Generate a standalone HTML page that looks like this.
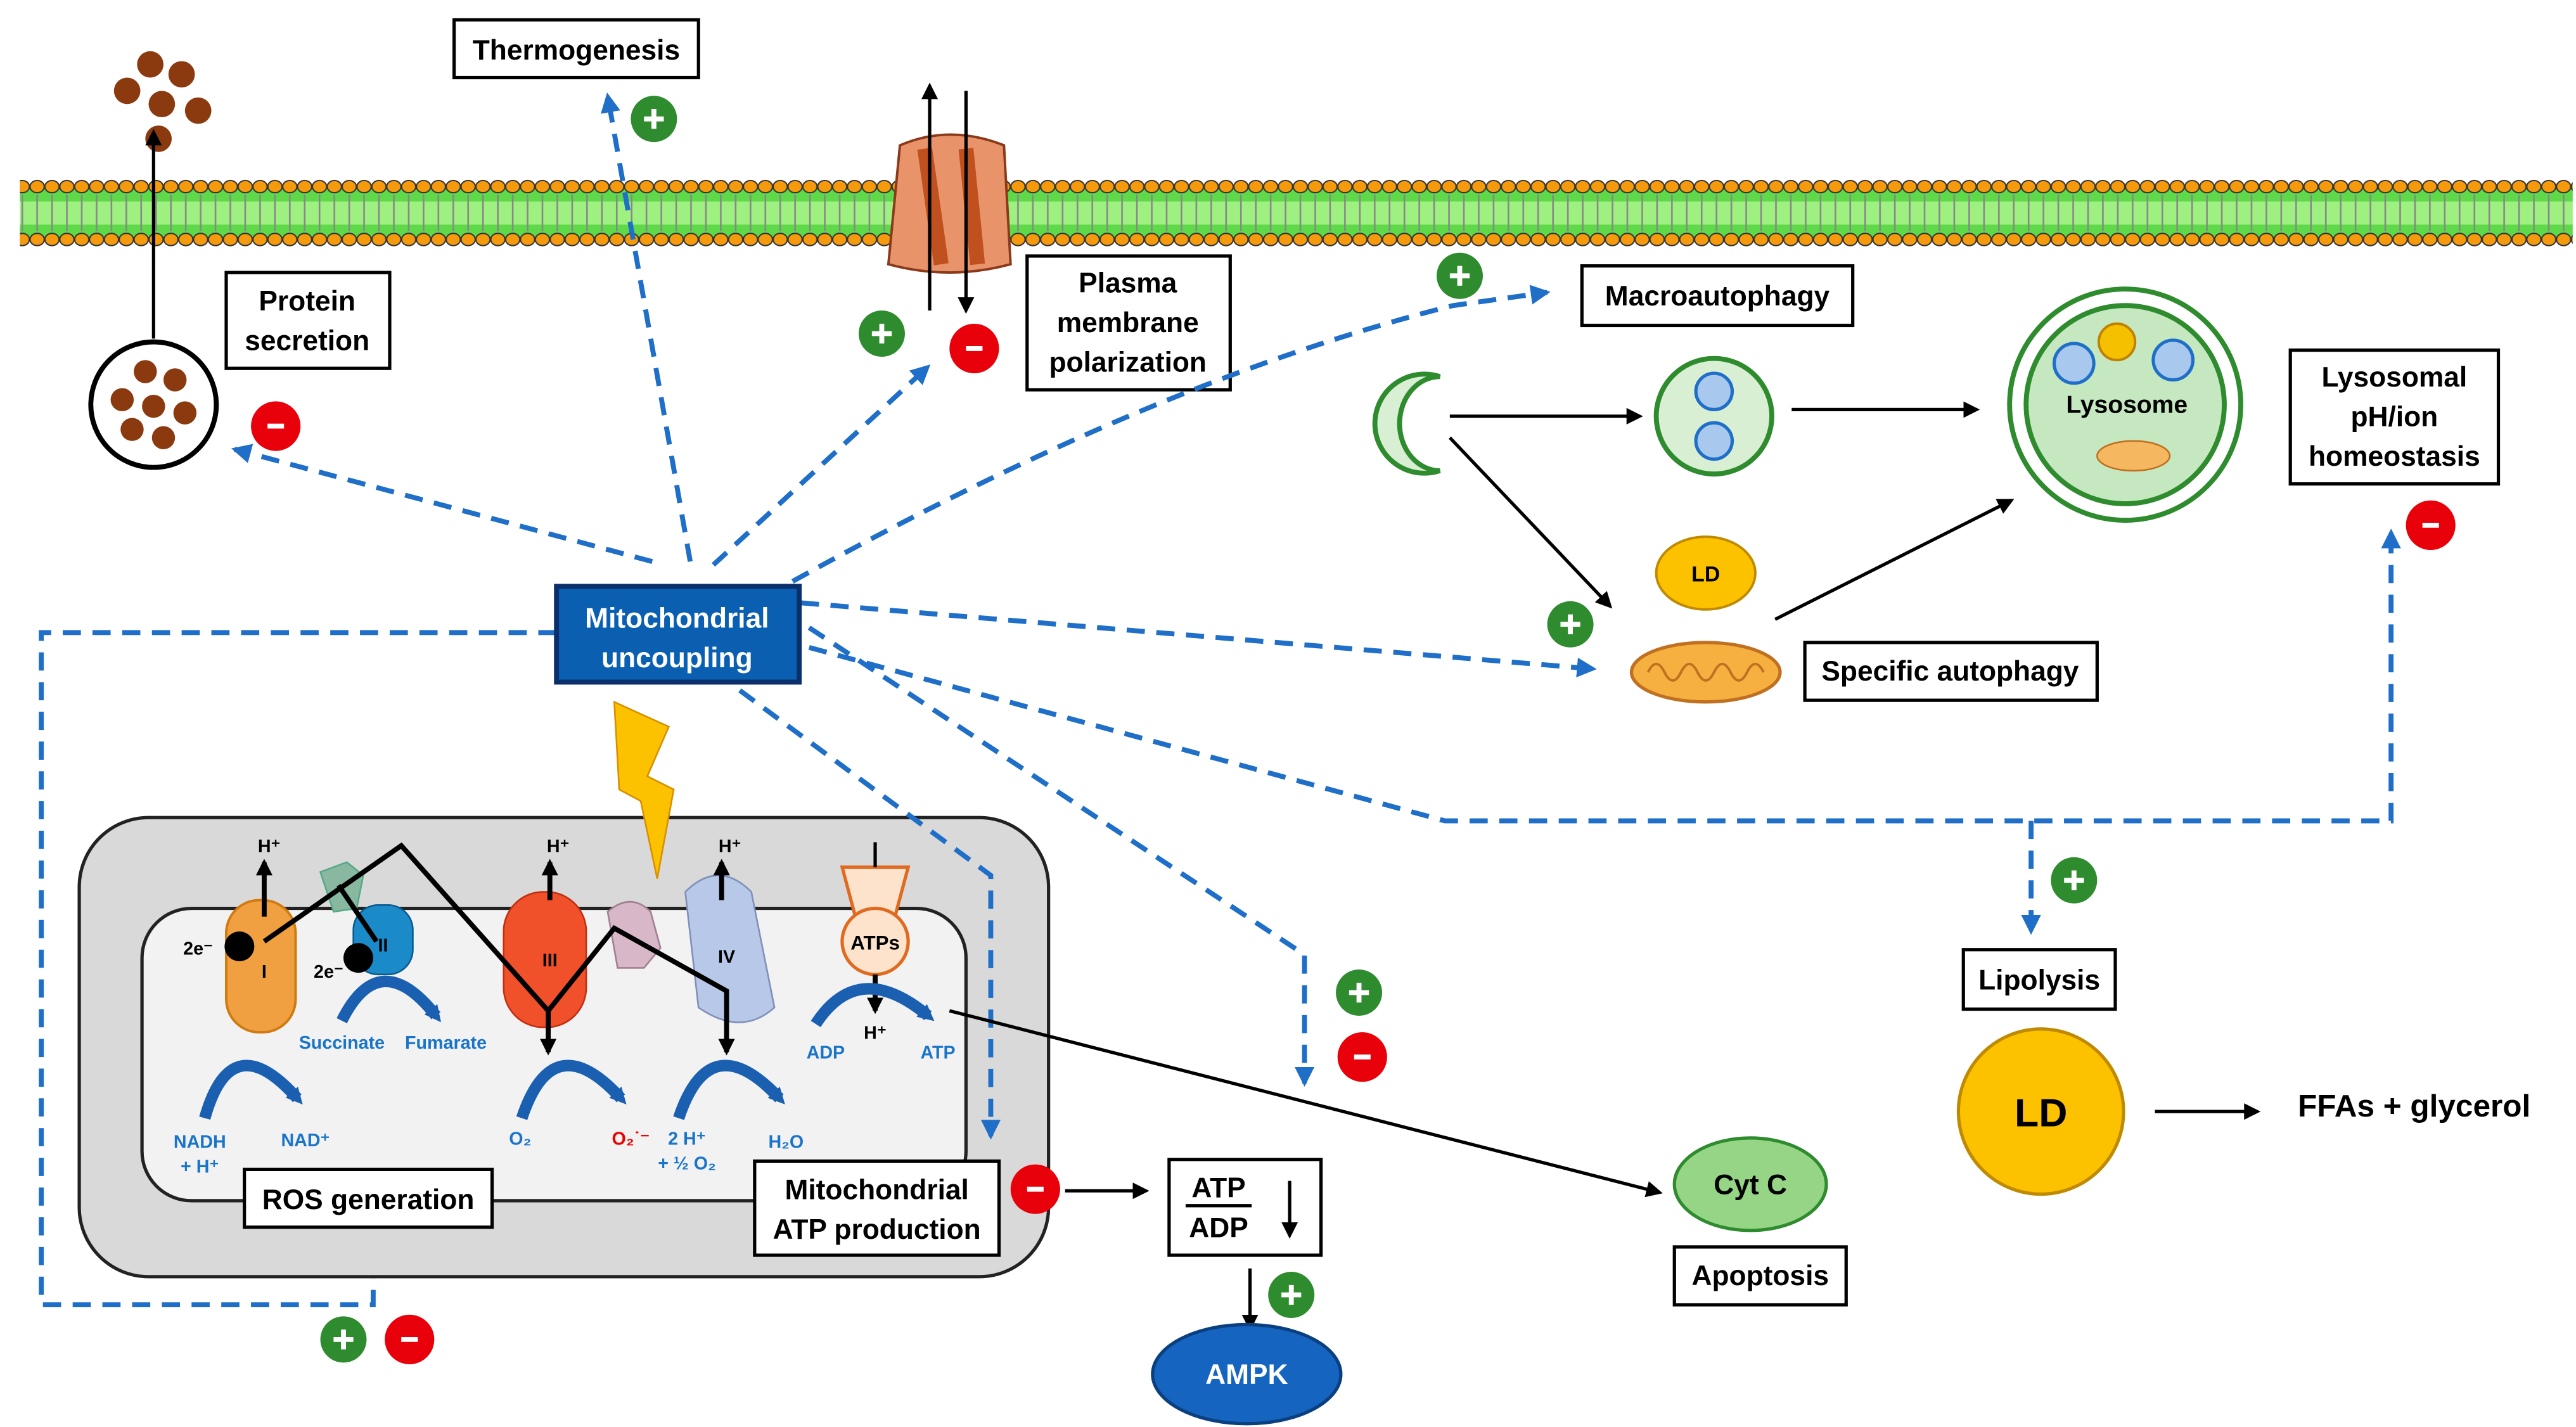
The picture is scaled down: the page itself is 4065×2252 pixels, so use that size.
<!DOCTYPE html>
<html><head><style>
html,body{margin:0;padding:0;background:#fff;}
svg{display:block;}
text{font-family:"Liberation Sans",sans-serif;}
.lb{font-size:17px;font-weight:bold;fill:#000;text-anchor:middle;}
.bx{fill:#fff;stroke:#000;stroke-width:2;}
.dl{fill:none;stroke:#1f6fc8;stroke-width:3;stroke-dasharray:11,7;}
.bl{fill:none;stroke:#000;stroke-width:2;}
.sm{font-size:11px;font-weight:bold;fill:#1a75c9;text-anchor:middle;}
</style></head><body>
<svg width="4065" height="2252" viewBox="0 0 1560 864" preserveAspectRatio="none" xmlns="http://www.w3.org/2000/svg">
<defs>
<pattern id="bead" x="0" y="108" width="9" height="42" patternUnits="userSpaceOnUse">
<rect x="0" y="4" width="9" height="34" fill="#5fd84a"/>
<rect x="0" y="14" width="9" height="14" fill="#9ef080"/>
<line x1="4.5" y1="10" x2="4.5" y2="32" stroke="#888" stroke-width="1"/>
<ellipse cx="4.5" cy="5" rx="4.3" ry="3.7" fill="#f59a0c" stroke="#333" stroke-width="0.8"/>
<ellipse cx="4.5" cy="37" rx="4.3" ry="3.7" fill="#f59a0c" stroke="#333" stroke-width="0.8"/>
</pattern>
<marker id="ab" markerWidth="10" markerHeight="10" refX="8" refY="5" orient="auto" markerUnits="userSpaceOnUse"><path d="M0,0 L10,5 L0,10z" fill="#000"/></marker>
<marker id="au" markerWidth="12" markerHeight="12" refX="10" refY="6" orient="auto" markerUnits="userSpaceOnUse"><path d="M0,0 L12,6 L0,12z" fill="#1f6fc8"/></marker>
<marker id="cb" markerWidth="10" markerHeight="10" refX="5" refY="5" orient="auto" markerUnits="userSpaceOnUse"><path d="M0,0 L10,5 L0,10z" fill="#1a5fb0"/></marker>
</defs>
<rect width="1560" height="864" fill="#fff"/>
<rect x="12" y="108" width="1546" height="42" fill="url(#bead)"/>
<path d="M545,88 Q575,75 608,88 L612,160 Q575,170 538,160 Z" fill="#e8936a" stroke="#8a3a1a" stroke-width="1.5"/>
<path d="M560,90 L570,160 M585,90 L592,160" stroke="#c0501e" stroke-width="9"/>
<line x1="563" y1="188" x2="563" y2="52" class="bl" stroke-width="3" marker-end="url(#ab)"/>
<line x1="585" y1="55" x2="585" y2="188" class="bl" stroke-width="3" marker-end="url(#ab)"/>
<rect x="275" y="12" width="148" height="35" class="bx"/><text x="349" y="36" class="lb">Thermogenesis</text>
<g fill="#8b3a10"><circle cx="91" cy="39" r="8"/><circle cx="110" cy="45" r="8"/><circle cx="77" cy="55" r="8"/><circle cx="98" cy="63" r="8"/><circle cx="120" cy="67" r="8"/><circle cx="96" cy="84" r="8"/></g>
<line x1="93" y1="205" x2="93" y2="80" class="bl" stroke-width="2.5" marker-end="url(#ab)"/>
<circle cx="93" cy="245" r="38" fill="#fff" stroke="#000" stroke-width="3"/>
<g fill="#8b3a10"><circle cx="88" cy="225" r="7"/><circle cx="106" cy="230" r="7"/><circle cx="74" cy="242" r="7"/><circle cx="93" cy="246" r="7"/><circle cx="112" cy="250" r="7"/><circle cx="80" cy="260" r="7"/><circle cx="99" cy="265" r="7"/></g>
<rect x="137" y="165" width="99" height="58" class="bx"/><text x="186" y="188" class="lb">Protein</text><text x="186" y="212" class="lb">secretion</text>
<rect x="622" y="155" width="123" height="81" class="bx"/><text x="683" y="177" class="lb">Plasma</text><text x="683" y="201" class="lb">membrane</text><text x="683" y="225" class="lb">polarization</text>
<rect x="958" y="161" width="164" height="36" class="bx"/><text x="1040" y="185" class="lb">Macroautophagy</text>
<path d="M872,228 A30,30 0 1,0 872,285 A24,28 0 1,1 872,228 Z" fill="#d9efd4" stroke="#2e8b2e" stroke-width="3"/>
<circle cx="1038" cy="252" r="35" fill="#d9efd4" stroke="#2e8b2e" stroke-width="3"/>
<circle cx="1038" cy="237" r="11" fill="#a8c8ee" stroke="#1f6fc8" stroke-width="2"/>
<circle cx="1038" cy="267" r="11" fill="#a8c8ee" stroke="#1f6fc8" stroke-width="2"/>
<circle cx="1287" cy="245" r="70" fill="#fff" stroke="#2e8b2e" stroke-width="3"/>
<circle cx="1287" cy="245" r="60" fill="#c5e8c0" stroke="#2e8b2e" stroke-width="3"/>
<circle cx="1256" cy="220" r="12" fill="#a8c8ee" stroke="#1f6fc8" stroke-width="2"/>
<circle cx="1316" cy="218" r="12" fill="#a8c8ee" stroke="#1f6fc8" stroke-width="2"/>
<circle cx="1282" cy="207" r="11" fill="#f5c000" stroke="#c08000" stroke-width="1.5"/>
<ellipse cx="1292" cy="276" rx="22" ry="9" fill="#f5b860" stroke="#c07020"/>
<text x="1288" y="250" class="lb" style="font-size:15px">Lysosome</text>
<line x1="878" y1="252" x2="993" y2="252" class="bl" marker-end="url(#ab)"/>
<line x1="1085" y1="248" x2="1197" y2="248" class="bl" marker-end="url(#ab)"/>
<line x1="878" y1="265" x2="975" y2="367" class="bl" marker-end="url(#ab)"/>
<line x1="1075" y1="375" x2="1218" y2="303" class="bl" marker-end="url(#ab)"/>
<rect x="1387" y="212" width="126" height="81" class="bx"/><text x="1450" y="234" class="lb">Lysosomal</text><text x="1450" y="258" class="lb">pH/ion</text><text x="1450" y="282" class="lb">homeostasis</text>
<ellipse cx="1033" cy="347" rx="30" ry="22" fill="#fcc200" stroke="#c08a00" stroke-width="1.5"/><text x="1033" y="352" class="lb" style="font-size:13px">LD</text>
<ellipse cx="1033" cy="407" rx="45" ry="18" fill="#f5b040" stroke="#c07020" stroke-width="2"/>
<path d="M998,407 q5,-10 10,0 q5,10 10,0 q5,-10 10,0 q5,10 10,0 q5,-10 10,0 q5,10 10,0 q5,-10 10,0" fill="none" stroke="#c07020" stroke-width="1.5"/>
<rect x="1093" y="389" width="177" height="35" class="bx"/><text x="1181" y="412" class="lb">Specific autophagy</text>
<path d="M418,340 L368,58" class="dl" marker-end="url(#au)"/>
<path d="M395,340 L142,272" class="dl" marker-end="url(#au)"/>
<path d="M432,342 L562,222" class="dl" marker-end="url(#au)"/>
<path d="M480,352 Q700,230 880,185 L937,177" class="dl" marker-end="url(#au)"/>
<path d="M485,365 L965,405" class="dl" marker-end="url(#au)"/>
<path d="M490,380 L790,578 L790,656" class="dl" marker-end="url(#au)"/>
<path d="M490,392 L875,497 L1448,497 L1448,322" class="dl" marker-end="url(#au)"/>
<path d="M1230,497 L1230,564" class="dl" marker-end="url(#au)"/>
<path d="M337,383 L25,383 L25,790 L226,790 L226,756" class="dl" marker-end="url(#au)"/>
<rect x="48" y="495" width="587" height="278" rx="42" fill="#d9d9d9" stroke="#222" stroke-width="2"/>
<rect x="86" y="550" width="499" height="177" rx="30" fill="#f2f2f2" stroke="#222" stroke-width="2"/>
<path d="M448,418 L600,530 L600,688" class="dl" marker-end="url(#au)"/>
<rect x="337" y="355" width="147" height="58" fill="#0a5fb0" stroke="#0a2f6a" stroke-width="3"/>
<text x="410" y="380" class="lb" style="fill:#fff">Mitochondrial</text><text x="410" y="404" class="lb" style="fill:#fff">uncoupling</text>
<path d="M372,425 L405,440 L392,470 L408,478 L398,532 L388,485 L375,478 Z" fill="#fcc200" stroke="#d89000"/>
<rect x="137" y="545" width="42" height="80" rx="20" fill="#f0a040" stroke="#d07a10" stroke-width="1.5"/>
<path d="M194,528 l16,-6 l10,8 l-4,20 l-14,2z" fill="#88b8a0" stroke="#5a8"/>
<rect x="214" y="548" width="36" height="42" rx="15" fill="#1a8ac8" stroke="#0a5a90"/>
<rect x="305" y="540" width="50" height="82" rx="24" fill="#f0502a" stroke="#c03010"/>
<path d="M368,552 q14,-12 26,0 l6,22 l-10,12 l-16,0z" fill="#d8b8c8" stroke="#a08090"/>
<path d="M415,540 q20,-20 40,0 l14,70 q-20,18 -46,0z" fill="#b8c8e8" stroke="#8090b8"/>
<path d="M510,525 L550,525 L542,555 L518,555 Z" fill="#fde3cc" stroke="#e06a20" stroke-width="2"/>
<line x1="530" y1="510" x2="530" y2="525" stroke="#000" stroke-width="2"/>
<circle cx="530" cy="570" r="20" fill="#fde3cc" stroke="#e06a20" stroke-width="2"/>
<text x="530" y="575" class="lb" style="font-size:12px">ATPs</text>
<g font-size="11" font-weight="bold" fill="#000" text-anchor="middle">
<text x="160" y="592">I</text><text x="232" y="576">II</text><text x="333" y="585">III</text><text x="440" y="583">IV</text>
<text x="120" y="578">2e⁻</text><text x="199" y="592">2e⁻</text>
<text x="163" y="516">H⁺</text><text x="338" y="516">H⁺</text><text x="442" y="516">H⁺</text><text x="530" y="629">H⁺</text>
</g>
<circle cx="145" cy="573" r="9" fill="#000"/><circle cx="217" cy="580" r="9" fill="#000"/>
<g stroke="#000" stroke-width="3" fill="none">
<line x1="160" y1="555" x2="160" y2="522" marker-end="url(#ab)"/>
<line x1="333" y1="545" x2="333" y2="522" marker-end="url(#ab)"/>
<line x1="437" y1="545" x2="437" y2="522" marker-end="url(#ab)"/>
<line x1="530" y1="590" x2="530" y2="612" marker-end="url(#ab)"/>
<path d="M160,570 L243,512 L332,612 L372,562 L440,600 L440,637" marker-end="url(#ab)"/>
<line x1="205" y1="536" x2="228" y2="570"/>
<line x1="332" y1="612" x2="332" y2="637" marker-end="url(#ab)"/>
</g>
<g stroke="#1a5fb0" stroke-width="7" fill="none">
<path d="M124,677 Q140,620 180,665" marker-end="url(#cb)"/>
<path d="M207,618 Q230,572 264,615" marker-end="url(#cb)"/>
<path d="M316,677 Q335,620 376,665" marker-end="url(#cb)"/>
<path d="M411,677 Q430,620 472,665" marker-end="url(#cb)"/>
<path d="M494,620 Q520,580 562,615" marker-end="url(#cb)"/>
</g>
<g><text x="121" y="695" class="sm">NADH</text><text x="121" y="710" class="sm">+ H⁺</text><text x="185" y="694" class="sm">NAD⁺</text>
<text x="207" y="635" class="sm">Succinate</text><text x="270" y="635" class="sm">Fumarate</text>
<text x="315" y="693" class="sm">O₂</text><text x="382" y="693" class="sm" style="fill:#e00">O₂˙⁻</text>
<text x="416" y="693" class="sm">2 H⁺</text><text x="416" y="708" class="sm">+ ½ O₂</text><text x="476" y="695" class="sm">H₂O</text>
<text x="500" y="641" class="sm">ADP</text><text x="568" y="641" class="sm">ATP</text></g>
<rect x="148" y="708" width="150" height="35" class="bx"/><text x="223" y="732" class="lb">ROS generation</text>
<rect x="457" y="703" width="148" height="57" class="bx"/><text x="531" y="726" class="lb">Mitochondrial</text><text x="531" y="750" class="lb">ATP production</text>
<line x1="575" y1="612" x2="1005" y2="722" class="bl" stroke-width="1.5" marker-end="url(#ab)"/>
<line x1="645" y1="721" x2="694" y2="721" class="bl" marker-end="url(#ab)"/>
<rect x="708" y="702" width="92" height="58" class="bx"/>
<text x="738" y="725" class="lb">ATP</text><line x1="718" y1="730" x2="758" y2="730" stroke="#000" stroke-width="2"/><text x="738" y="749" class="lb">ADP</text>
<line x1="781" y1="715" x2="781" y2="748" class="bl" marker-end="url(#ab)"/>
<line x1="757" y1="768" x2="757" y2="804" class="bl" marker-end="url(#ab)"/>
<ellipse cx="755" cy="832" rx="57" ry="30" fill="#1565c0" stroke="#0a3f80" stroke-width="2"/><text x="755" y="838" class="lb" style="fill:#fff">AMPK</text>
<ellipse cx="1060" cy="717" rx="46" ry="28" fill="#95d585" stroke="#2e8b2e" stroke-width="2"/><text x="1060" y="723" class="lb">Cyt C</text>
<rect x="1014" y="755" width="104" height="35" class="bx"/><text x="1066" y="778" class="lb">Apoptosis</text>
<rect x="1189" y="575" width="92" height="36" class="bx"/><text x="1235" y="599" class="lb">Lipolysis</text>
<circle cx="1236" cy="673" r="50" fill="#fcc200" stroke="#c08a00" stroke-width="2"/><text x="1236" y="682" class="lb" style="font-size:24px">LD</text>
<line x1="1305" y1="673" x2="1367" y2="673" class="bl" marker-end="url(#ab)"/>
<text x="1462" y="676" class="lb" style="font-size:19px">FFAs + glycerol</text>
<g fill="#2e8b2e"><circle cx="396" cy="72" r="14"/><circle cx="534" cy="202" r="14"/><circle cx="884" cy="167" r="14"/><circle cx="951" cy="378" r="14"/><circle cx="823" cy="601" r="14"/><circle cx="1256" cy="533" r="14"/><circle cx="782" cy="784" r="14"/><circle cx="208" cy="811" r="14"/></g>
<g fill="#e8000a"><circle cx="167" cy="258" r="15"/><circle cx="590" cy="211" r="15"/><circle cx="1472" cy="318" r="15"/><circle cx="825" cy="640" r="15"/><circle cx="627" cy="720" r="15"/><circle cx="248" cy="811" r="15"/></g>
<g stroke="#fff" stroke-width="3">
<path d="M390,72h12M396,66v12 M528,202h12M534,196v12 M878,167h12M884,161v12 M945,378h12M951,372v12 M817,601h12M823,595v12 M1250,533h12M1256,527v12 M776,784h12M782,778v12 M202,811h12M208,805v12"/>
<path d="M162,258h10 M585,211h10 M1467,318h10 M820,640h10 M622,720h10 M243,811h10"/>
</g>
</svg>
</body></html>
